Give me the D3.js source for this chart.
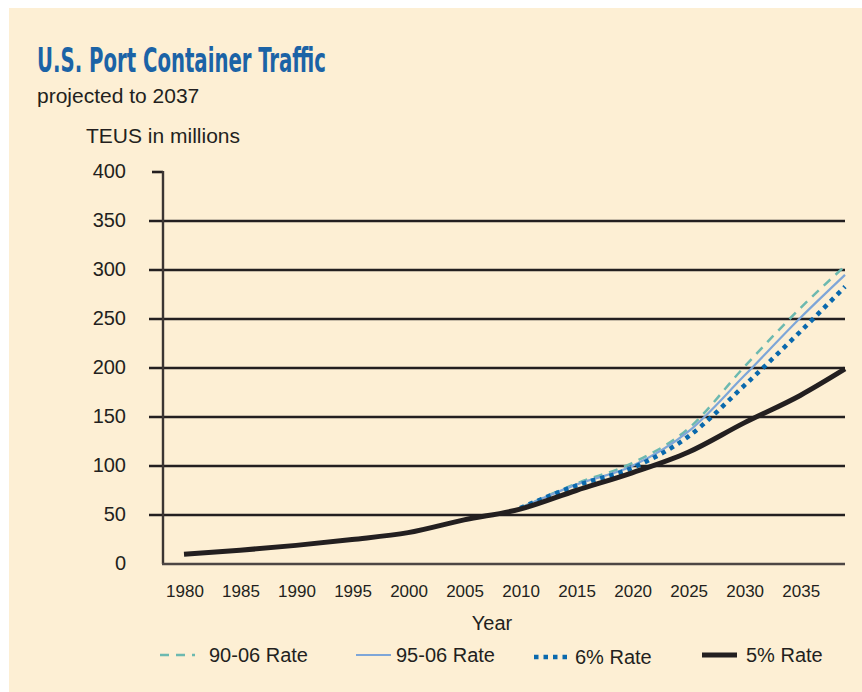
<!DOCTYPE html>
<html>
<head>
<meta charset="utf-8">
<script src="https://cdn.jsdelivr.net/npm/d3@7"></script>
<style>
  body { margin: 0; background: #fff; }
  svg { display: block; }
  text { font-family: "Liberation Sans", Arial, sans-serif; fill: #231f20; }
</style>
</head>
<body>
<svg></svg>
<script>
const width = 862;
const height = 692;

// Data (TEUs in millions)
const years5 = [1980, 1985, 1990, 1995, 2000, 2005, 2010, 2015, 2020, 2025, 2030, 2035, 2039];
const rate5 = [10, 14, 19, 25, 32, 45, 56, 75, 93, 114, 144, 172, 199];

const yearsProj = [2010, 2015, 2020, 2025, 2030, 2035, 2039];
const rate9006 = [57, 82, 103, 138, 201, 261, 304];
const rate9506 = [57, 81, 100, 135, 192, 251, 295];
const rate6 = [57, 80, 98, 130, 182, 237, 283];

const xTicks = [1980, 1985, 1990, 1995, 2000, 2005, 2010, 2015, 2020, 2025, 2030, 2035];
const yTicks = [0, 50, 100, 150, 200, 250, 300, 350, 400];

const series = [
  { name: "90-06 Rate", years: yearsProj, values: rate9006, color: "#6cb9b0", width: 2.5, dash: "9,7" },
  { name: "95-06 Rate", years: yearsProj, values: rate9506, color: "#7ea6d8", width: 2.2, dash: null },
  { name: "6% Rate", years: yearsProj, values: rate6, color: "#0a69ad", width: 4.5, dash: "4.5,5" },
  { name: "5% Rate", years: years5, values: rate5, color: "#231f20", width: 5, dash: null }
];

const svg = d3.select("svg").attr("width", width).attr("height", height);

// cream panel
svg.append("rect")
  .attr("x", 9).attr("y", 8)
  .attr("width", width - 9).attr("height", height - 8)
  .attr("fill", "#fdefd4");

// titles
svg.append("text")
  .attr("x", 37).attr("y", 72)
  .attr("textLength", 289).attr("lengthAdjust", "spacingAndGlyphs")
  .style("font-family", "'Liberation Sans Narrow', 'DejaVu Sans Condensed', Arial, sans-serif")
  .style("font-weight", "bold")
  .style("font-size", "34px")
  .style("fill", "#1b63a6")
  .text("U.S. Port Container Traffic");

svg.append("text")
  .attr("x", 37).attr("y", 103)
  .style("font-size", "21px")
  .text("projected to 2037");

svg.append("text")
  .attr("x", 86).attr("y", 143)
  .style("font-size", "21px")
  .text("TEUS in millions");

// scales
const x = d3.scaleLinear().domain([1980, 2039]).range([184, 845]);
const y = d3.scaleLinear().domain([0, 400]).range([564, 172]);

// gridlines
svg.append("g")
  .selectAll("line")
  .data(yTicks.filter((d) => d > 0))
  .join("line")
  .attr("x1", (d) => (d === 400 ? 152 : 149))
  .attr("x2", (d) => (d === 400 ? 163 : 845))
  .attr("y1", (d) => y(d))
  .attr("y2", (d) => y(d))
  .attr("stroke", "#231f20")
  .attr("stroke-width", 2.6);

// y axis line and zero line
svg.append("line")
  .attr("x1", 163).attr("x2", 163)
  .attr("y1", y(400) - 1).attr("y2", y(0))
  .attr("stroke", "#3b3533").attr("stroke-width", 2.4);

svg.append("line")
  .attr("x1", 162).attr("x2", 845)
  .attr("y1", y(0)).attr("y2", y(0))
  .attr("stroke", "#4d4644").attr("stroke-width", 2.6);

// y tick labels
svg.append("g")
  .selectAll("text")
  .data(yTicks)
  .join("text")
  .attr("x", 126)
  .attr("y", (d) => y(d) + 6)
  .attr("text-anchor", "end")
  .style("font-size", "20px")
  .text((d) => d);

// x tick labels
svg.append("g")
  .selectAll("text")
  .data(xTicks)
  .join("text")
  .attr("x", (d) => x(d) + 1)
  .attr("y", 597)
  .attr("text-anchor", "middle")
  .style("font-size", "17px")
  .text((d) => d);

svg.append("text")
  .attr("x", 492).attr("y", 630)
  .attr("text-anchor", "middle")
  .style("font-size", "20px")
  .text("Year");

// lines
const line = d3.line()
  .x((d) => x(d[0]))
  .y((d) => y(d[1]))
  .curve(d3.curveMonotoneX);

svg.append("g")
  .selectAll("path")
  .data(series)
  .join("path")
  .attr("d", (s) => line(s.years.map((yr, i) => [yr, s.values[i]])))
  .attr("fill", "none")
  .attr("stroke", (s) => s.color)
  .attr("stroke-width", (s) => s.width)
  .attr("stroke-dasharray", (s) => s.dash)
  .attr("stroke-linejoin", "round");

// legend
const legendPos = [
  { sx: 160, tx: 209, ty: 662 },
  { sx: 356, tx: 396, ty: 662 },
  { sx: 534, tx: 575, ty: 664 },
  { sx: 702, tx: 746, ty: 662 }
];

const legend = svg.append("g")
  .selectAll("g")
  .data(series)
  .join("g");

legend.append("line")
  .attr("x1", (s, i) => legendPos[i].sx)
  .attr("x2", (s, i) => legendPos[i].sx + 35)
  .attr("y1", (s, i) => legendPos[i].ty - 7)
  .attr("y2", (s, i) => legendPos[i].ty - 7)
  .attr("stroke", (s) => s.color)
  .attr("stroke-width", (s) => s.width)
  .attr("stroke-dasharray", (s) => s.dash);

legend.append("text")
  .attr("x", (s, i) => legendPos[i].tx)
  .attr("y", (s, i) => legendPos[i].ty)
  .style("font-size", "20px")
  .text((s) => s.name);
</script>
</body>
</html>
